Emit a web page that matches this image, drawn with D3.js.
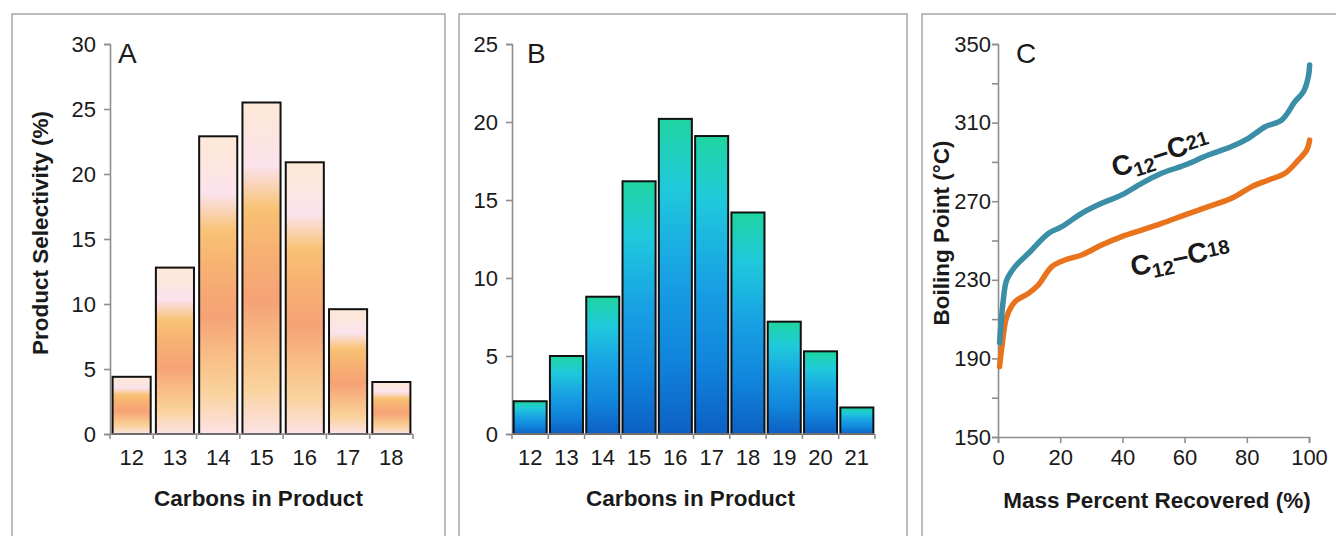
<!DOCTYPE html>
<html>
<head>
<meta charset="utf-8">
<script src="https://cdn.jsdelivr.net/npm/d3@7"></script>
<style>
  body { margin: 0; background: #fff; }
  svg { display: block; }
  svg text { font-family: "Liberation Sans", Arial, sans-serif; }
</style>
</head>
<body>
<svg id="chart" width="1336" height="536"></svg>
<script>
// Panel A: C12-C18 product distribution
const carbonsA = ["12", "13", "14", "15", "16", "17", "18"];
const selectivityA = [4.4, 12.8, 22.9, 25.5, 20.9, 9.6, 4.0];
const ticksA = [0, 5, 10, 15, 20, 25, 30];

// Panel B: C12-C21 product distribution
const carbonsB = ["12", "13", "14", "15", "16", "17", "18", "19", "20", "21"];
const selectivityB = [2.1, 5.0, 8.8, 16.2, 20.2, 19.1, 14.2, 7.2, 5.3, 1.7];
const ticksB = [0, 5, 10, 15, 20, 25];

// Panel C: simulated distillation curves
const recovered21 = [0.5, 1.7, 2.8, 5.5, 9.8, 16.2, 20.5, 26.9, 33.3, 39.8, 46.2, 52.6, 60.1, 67.6, 75.1, 80.5, 85.9, 91.2, 95.5, 98.2, 99.8, 100.2];
const boiling21 = [198, 219.7, 229.9, 236.7, 243.5, 253.6, 257, 263.8, 268.9, 273.2, 279.1, 284.2, 288.4, 293.5, 297.8, 302, 307.9, 311.3, 320.7, 325.7, 333.4, 339.3];
const recovered18 = [0.5, 1.4, 2.8, 5.5, 9.8, 13, 17.3, 21.5, 26.9, 33.3, 39.8, 46.2, 52.6, 60.1, 67.6, 75.1, 81.6, 87, 92.3, 96.6, 99.3, 100.2];
const boiling18 = [185.8, 197.7, 211.2, 218.9, 223.1, 227.4, 236.7, 240.1, 242.6, 247.7, 252, 255.3, 258.7, 263, 267.2, 271.5, 277.4, 280.8, 284.2, 291, 296.1, 301.1];
const ticksCy = [150, 170, 190, 210, 230, 250, 270, 290, 310, 330, 350];
const labelsCy = [150, 190, 230, 270, 310, 350];
const ticksCx = [0, 20, 40, 60, 80, 100];

const svg = d3.select("#chart");
const defs = svg.append("defs");
const textColor = "#1a1a1a";
const axisColor = "#8e8e8e";
const tickFont = "22px";
const titleFont = "22.5px";

// bar gradients
const gradA = defs.append("linearGradient").attr("id", "gradA")
    .attr("x1", 0).attr("y1", 0).attr("x2", 0).attr("y2", 1);
[[0, "#fde9d8"], [0.08, "#fce6dc"], [0.19, "#fbe3ee"], [0.32, "#f8c274"], [0.45, "#f7b072"], [0.6, "#f6a276"],
 [0.75, "#f8c088"], [0.86, "#fad29c"], [1, "#fce3e6"]].forEach(s =>
    gradA.append("stop").attr("offset", s[0]).attr("stop-color", s[1]));

const gradB = defs.append("linearGradient").attr("id", "gradB")
    .attr("x1", 0).attr("y1", 0).attr("x2", 0).attr("y2", 1);
[[0, "#1ed5a0"], [0.22, "#1fc9dc"], [0.5, "#18a0e4"], [0.75, "#1186dc"], [1, "#0c60c4"]].forEach(s =>
    gradB.append("stop").attr("offset", s[0]).attr("stop-color", s[1]));

// panel frames
[[12, 433], [459, 448], [922, 430]].forEach(f => {
    svg.append("rect")
        .attr("x", f[0]).attr("y", 14)
        .attr("width", f[1]).attr("height", 600)
        .attr("fill", "none")
        .attr("stroke", "#a6a6a6")
        .attr("stroke-width", 1.5);
});

function styleAxis(sel) {
    sel.attr("font-family", null);
    sel.select(".domain").attr("stroke", axisColor).attr("stroke-width", 1.6);
    sel.selectAll(".tick line").attr("stroke", axisColor).attr("stroke-width", 1.6);
    sel.selectAll(".tick text").attr("fill", textColor).style("font-size", tickFont);
}

function barPanel(cats, values, yMax, yTicks, xRange, pad, fill, letter, letterX) {
    const g = svg.append("g");
    const x = d3.scaleBand().domain(cats).range(xRange).paddingInner(pad).paddingOuter(pad / 2);
    const y = d3.scaleLinear().domain([0, yMax]).range([434, 44]);

    // y axis
    g.append("g")
        .attr("transform", `translate(${xRange[0]},0)`)
        .call(d3.axisLeft(y).tickValues(yTicks).tickSize(6).tickPadding(8))
        .call(styleAxis);

    g.selectAll("rect.bar")
        .data(values)
        .join("rect")
        .attr("class", "bar")
        .attr("x", (d, i) => x(cats[i]))
        .attr("y", d => y(d))
        .attr("width", x.bandwidth())
        .attr("height", d => y(0) - y(d))
        .attr("fill", fill)
        .attr("stroke", "#111")
        .attr("stroke-width", 2);

    // x axis with ticks at category boundaries
    const xAxis = g.append("g").attr("transform", `translate(0,${y(0)})`);
    xAxis.append("line")
        .attr("x1", xRange[0]).attr("x2", xRange[1])
        .attr("stroke", axisColor).attr("stroke-width", 1.6);
    xAxis.selectAll("line.tk")
        .data(d3.range(cats.length + 1))
        .join("line")
        .attr("class", "tk")
        .attr("x1", i => xRange[0] + i * x.step())
        .attr("x2", i => xRange[0] + i * x.step())
        .attr("y1", 0).attr("y2", 5)
        .attr("stroke", axisColor).attr("stroke-width", 1.6);
    xAxis.selectAll("text")
        .data(cats)
        .join("text")
        .attr("x", d => xRange[0] + (cats.indexOf(d) + 0.5) * x.step())
        .attr("y", 31)
        .attr("text-anchor", "middle")
        .attr("fill", textColor)
        .style("font-size", tickFont)
        .text(d => d);

    g.append("text")
        .attr("x", (xRange[0] + xRange[1]) / 2 - 3)
        .attr("y", 506)
        .attr("text-anchor", "middle")
        .attr("fill", textColor)
        .style("font-size", titleFont).style("font-weight", "bold")
        .text("Carbons in Product");

    g.append("text")
        .attr("x", letterX)
        .attr("y", 63)
        .attr("fill", textColor)
        .style("font-size", "28px")
        .text(letter);
    return g;
}

barPanel(carbonsA, selectivityA, 30, ticksA, [110, 413], 0.12, "url(#gradA)", "A", 118);
barPanel(carbonsB, selectivityB, 25, ticksB, [512, 875], 0.09, "url(#gradB)", "B", 527);

svg.append("text")
    .attr("transform", "translate(48,233) rotate(-90)")
    .attr("text-anchor", "middle")
    .attr("fill", textColor)
    .style("font-size", titleFont).style("font-weight", "bold")
    .text("Product Selectivity (%)");

// Panel C
const gc = svg.append("g");
const xc = d3.scaleLinear().domain([0, 100]).range([998, 1309]);
const yc = d3.scaleLinear().domain([150, 350]).range([437, 44]);

gc.append("g")
    .attr("transform", `translate(${xc(0)},0)`)
    .call(d3.axisLeft(yc).tickValues(ticksCy).tickSize(6).tickPadding(1)
        .tickFormat(d => labelsCy.includes(d) ? d : ""))
    .call(styleAxis);

gc.append("g")
    .attr("transform", `translate(0,${yc(150)})`)
    .call(d3.axisBottom(xc).tickValues(ticksCx).tickSize(6).tickPadding(6))
    .call(styleAxis);

const line = d3.line()
    .x(d => xc(d[0]))
    .y(d => yc(d[1]))
    .curve(d3.curveCatmullRom);

gc.append("path")
    .datum(recovered18.map((v, i) => [v, boiling18[i]]))
    .attr("d", line)
    .attr("fill", "none")
    .attr("stroke", "#e8731c")
    .attr("stroke-width", 5.5)
    .attr("stroke-linecap", "round");

gc.append("path")
    .datum(recovered21.map((v, i) => [v, boiling21[i]]))
    .attr("d", line)
    .attr("fill", "none")
    .attr("stroke", "#3a8ea6")
    .attr("stroke-width", 5.5)
    .attr("stroke-linecap", "round");

function rangeLabel(cx, cy, angle, lo, hi) {
    const t = gc.append("text")
        .attr("transform", `translate(${cx},${cy}) rotate(${angle})`)
        .attr("text-anchor", "middle")
        .attr("fill", textColor)
        .style("font-weight", "bold")
        .style("font-size", "28px");
    t.append("tspan").text("C");
    t.append("tspan").attr("dy", 6).style("font-size", "20px").text(lo);
    t.append("tspan").attr("dy", -6).text("–C");
    t.append("tspan").attr("dy", -3).style("font-size", "20px").text(hi);
}
rangeLabel(1163, 162, -18, "12", "21");
rangeLabel(1182, 266, -12, "12", "18");

gc.append("text")
    .attr("x", 1016)
    .attr("y", 63)
    .attr("fill", textColor)
    .style("font-size", "28px")
    .text("C");

gc.append("text")
    .attr("x", 1157)
    .attr("y", 508)
    .attr("text-anchor", "middle")
    .attr("fill", textColor)
    .style("font-size", titleFont).style("font-weight", "bold")
    .text("Mass Percent Recovered (%)");

gc.append("text")
    .attr("transform", "translate(949,233) rotate(-90)")
    .attr("text-anchor", "middle")
    .attr("fill", textColor)
    .style("font-size", titleFont).style("font-weight", "bold")
    .text("Boiling Point (°C)");
</script>
</body>
</html>
